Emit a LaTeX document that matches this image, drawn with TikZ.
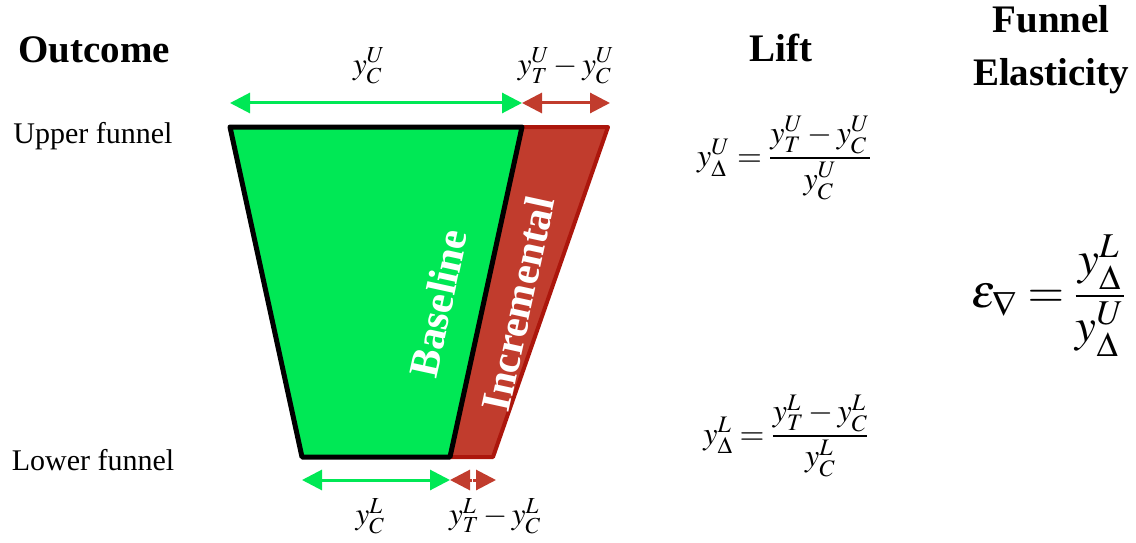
\documentclass[tikz,border=0pt]{standalone}
\usepackage{amsmath}
\usepackage{mathptmx}
\usepackage[no-math]{fontspec}
\setmainfont{Liberation Serif}
\usetikzlibrary{arrows.meta}
\definecolor{basegreen}{RGB}{0,232,85}
\definecolor{incred}{RGB}{193,60,45}
\definecolor{incedge}{RGB}{172,22,12}
\tikzset{
  heading/.style={font=\fontsize{39}{53}\selectfont\bfseries, align=center},
  level/.style={font=\fontsize{30}{32}\selectfont},
  measure/.style={font=\fontsize{31}{33}\selectfont},
  formula/.style={font=\fontsize{32}{34}\selectfont},
  greenarrow/.style={basegreen, line width=3pt, {Triangle[length=20pt,width=20pt]}-{Triangle[length=20pt,width=20pt]}},
  redarrow/.style={incred, line width=3pt, {Triangle[length=20pt,width=20pt]}-{Triangle[length=20pt,width=20pt]}},
  slanted/.style={white, font=\fontsize{42}{44}\selectfont\bfseries, rotate=77.7}
}
\begin{document}
\begin{tikzpicture}[x=1pt,y=-1pt]
  \useasboundingbox (0,0) rectangle (1136,543);
  % funnel corners
  \coordinate (gtl) at (230,127);
  \coordinate (gtr) at (522,127);
  \coordinate (gbr) at (450,457);
  \coordinate (gbl) at (302,457);
  \coordinate (rtr) at (608,127);
  \coordinate (rbr) at (493,457);
  % incremental part, then baseline part on top
  \draw[incedge, fill=incred, line width=4pt, line join=round] (gtr) -- (rtr) -- (rbr) -- (gbr) -- cycle;
  \draw[black, fill=basegreen, line width=5pt, line join=round] (gtl) -- (gtr) -- (gbr) -- (gbl) -- cycle;
  \node[slanted] (base) at (438,303) {Baseline};
  \node[slanted] (incr) at (518,304) {Incremental};
  % headings
  \node[heading] (outcome) at (94,50) {Outcome};
  \node[heading] (lift) at (781,48) {Lift};
  \node[heading] (elast) at (1051,50) {Funnel\\Elasticity};
  \node[level] (upper) at (93,136) {Upper funnel};
  \node[level] (lower) at (93,460) {Lower funnel};
  % widths at the top
  \coordinate (ua) at (230,103);
  \coordinate (ub) at (522,103);
  \coordinate (uc) at (610,103);
  \draw[greenarrow] (ua) -- (ub);
  \draw[redarrow] (ub) -- (uc);
  \node[measure] (ycu) at (369,66) {$y_C^U$};
  \node[measure] (ytu) at (566,66) {$y_T^U - y_C^U$};
  % widths at the bottom
  \coordinate (la) at (302,480);
  \coordinate (lb) at (450,480);
  \coordinate (lm) at (472,480);
  \coordinate (lc) at (496,480);
  \draw[greenarrow] (la) -- (lb);
  \draw[redarrow, -{Triangle[length=20pt,width=20pt]}] (lm) -- (lb);
  \draw[redarrow, -{Triangle[length=20pt,width=20pt]}] (lm) -- (lc);
  \draw[white, line width=1pt] (472,470) -- (472,490);
  \node[measure] (ycl) at (370,516) {$y_C^L$};
  \node[measure] (ytl) at (495,516) {$y_T^L - y_C^L$};
  % lifts and elasticity
  \node[formula] (liftu) at (784,158) {$y_\Delta^U = \dfrac{y_T^U - y_C^U}{y_C^U}$};
  \node[formula] (liftl) at (786,436) {$y_\Delta^L = \dfrac{y_T^L - y_C^L}{y_C^L}$};
  \node[font=\fontsize{47}{50}\selectfont] (eps) at (1048,296) {$\varepsilon_\nabla = \dfrac{y_\Delta^L}{y_\Delta^U}$};
\end{tikzpicture}
\end{document}
